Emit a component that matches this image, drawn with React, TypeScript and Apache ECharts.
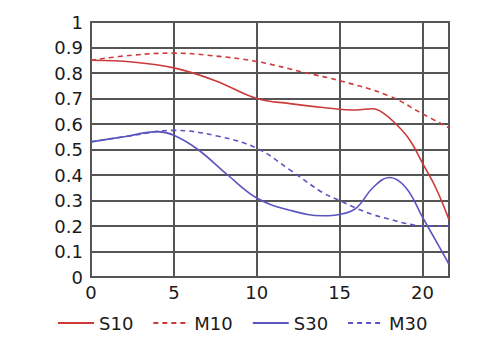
import React, { useEffect, useRef } from "react";
import * as echarts from "echarts";

const seriesNames = ["S10", "M10", "S30", "M30"];

const s10X = [0, 2.5, 5, 7.5, 10, 12, 14, 16, 17, 17.7, 18.4, 19.2, 20, 20.8, 21.6];
const s10Y = [0.85, 0.843, 0.82, 0.77, 0.7, 0.68, 0.665, 0.655, 0.66, 0.64, 0.6, 0.54, 0.447, 0.35, 0.225];

const m10X = [0, 2.5, 5, 7, 10, 13, 15, 18, 20, 21.6];
const m10Y = [0.85, 0.87, 0.878, 0.87, 0.845, 0.8, 0.77, 0.71, 0.64, 0.585];

const s30X = [0, 2, 4, 5, 6.45, 8.25, 10, 12, 14, 15, 16, 17, 18, 19, 20, 21, 21.6];
const s30Y = [0.53, 0.55, 0.57, 0.556, 0.5, 0.4, 0.31, 0.262, 0.24, 0.245, 0.27, 0.35, 0.39, 0.35, 0.235, 0.12, 0.05];

const m30X = [0, 2.5, 5, 7.6, 10, 12, 14, 15, 16, 17, 18, 19, 20, 21.6];
const m30Y = [0.53, 0.555, 0.575, 0.553, 0.505, 0.42, 0.33, 0.3, 0.27, 0.245, 0.227, 0.21, 0.2, 0.2];

const xMax = 21.6;

const RED = "#cc3a3a";
const BLUE = "#5a55c0";
const FONT = "DejaVu Sans";

const pairs = (xs: number[], ys: number[]) => xs.map((x, i) => [x, ys[i]]);

export default function App() {
  const ref = useRef<HTMLDivElement>(null);
  useEffect(() => {
    if (!ref.current) return;
    const chart = echarts.init(ref.current, null, { renderer: "svg" });
    const mk = (name: string, xs: number[], ys: number[], color: string, dashed: boolean) => ({
      name,
      type: "line",
      data: pairs(xs, ys),
      smooth: 0.4,
      symbol: "none",
      lineStyle: { color, width: 1.6, type: dashed ? [5, 4] : "solid" },
      itemStyle: { color },
    });
    chart.setOption({
      animation: false,
      backgroundColor: "#ffffff",
      grid: {
        left: 91,
        right: 51,
        top: 22,
        bottom: 68,
        show: true,
        borderColor: "#555555",
        borderWidth: 2,
        backgroundColor: "#ffffff",
      },
      legend: {
        data: seriesNames,
        left: 52,
        top: 309,
        itemWidth: 36,
        itemHeight: 18,
        itemGap: 19,
        itemStyle: { opacity: 0 },
        textStyle: { fontFamily: FONT, fontSize: 18, color: "#1a1a1a" },
      },
      xAxis: {
        type: "value",
        min: 0,
        max: xMax,
        interval: 5,
        axisLine: { show: true, lineStyle: { color: "#555555", width: 2 } },
        axisTick: { show: false },
        splitLine: { show: true, lineStyle: { color: "#555555", width: 2 } },
        axisLabel: {
          fontFamily: FONT,
          fontSize: 18,
          color: "#1a1a1a",
          margin: 6,
          showMaxLabel: false,
        },
      },
      yAxis: {
        type: "value",
        min: 0,
        max: 1,
        interval: 0.1,
        axisLine: { show: true, lineStyle: { color: "#555555", width: 2 } },
        axisTick: { show: false },
        splitLine: { show: true, lineStyle: { color: "#555555", width: 2 } },
        axisLabel: {
          fontFamily: FONT,
          fontSize: 18,
          color: "#1a1a1a",
          margin: 8,
        },
      },
      series: [
        mk("S10", s10X, s10Y, RED, false),
        mk("M10", m10X, m10Y, RED, true),
        mk("S30", s30X, s30Y, BLUE, false),
        mk("M30", m30X, m30Y, BLUE, true),
      ],
    });
    return () => chart.dispose();
  }, []);
  return <div ref={ref} style={{ width: 500, height: 345, position: "absolute", left: 0, top: 0 }} />;
}
